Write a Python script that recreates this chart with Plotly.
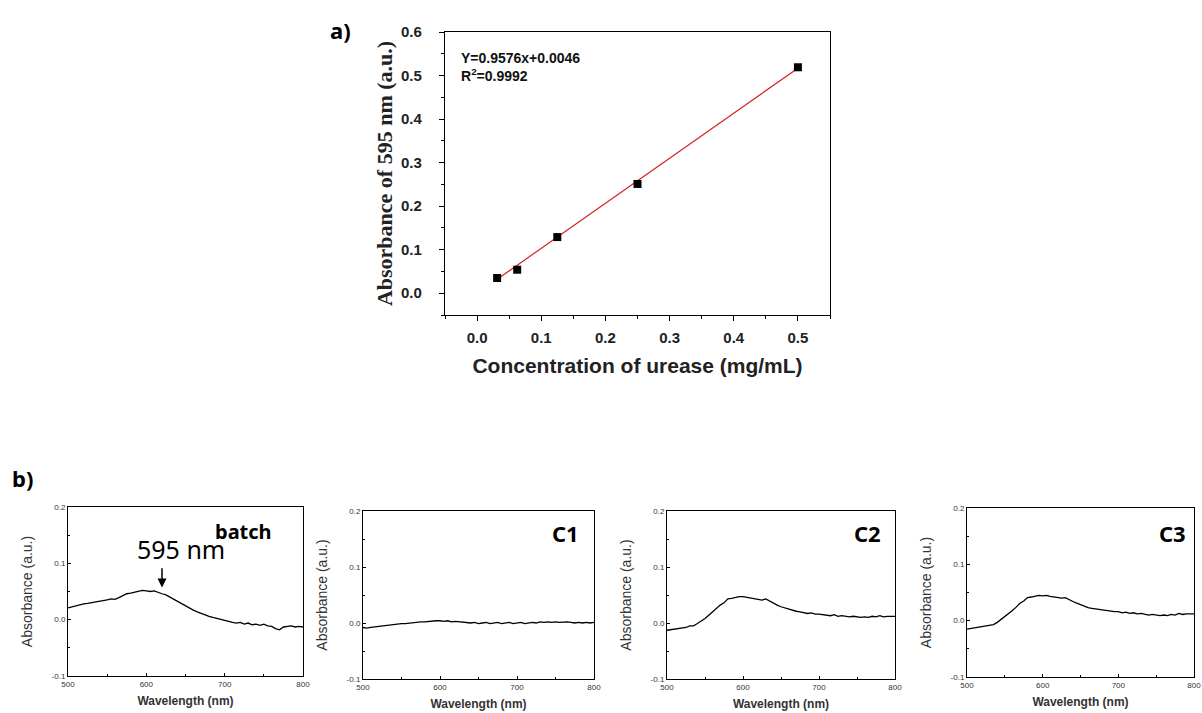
import plotly.graph_objects as go

# ---------- data: panel a ----------
conc = [0.03125, 0.0625, 0.125, 0.25, 0.5]
absorb = [0.035, 0.054, 0.129, 0.251, 0.519]
fit_x = [0.03125, 0.5]
fit_y = [0.032, 0.517]
conc_ticks = ["0.0", "0.1", "0.2", "0.3", "0.4", "0.5"]
abs595_ticks = ["0.0", "0.1", "0.2", "0.3", "0.4", "0.5", "0.6"]

# ---------- data: panel b ----------
wavelength = list(range(500, 805, 5))
batch = [0.021, 0.023, 0.025, 0.026, 0.028, 0.029, 0.030, 0.031, 0.033, 0.034,
         0.035, 0.037, 0.036, 0.039, 0.042, 0.046, 0.047, 0.049, 0.051, 0.052,
         0.051, 0.050, 0.051, 0.048, 0.046, 0.044, 0.040, 0.036, 0.033, 0.028,
         0.024, 0.021, 0.017, 0.014, 0.011, 0.009, 0.006, 0.004, 0.002, 0.001,
         -0.002, -0.003, -0.005, -0.006, -0.005, -0.008, -0.006, -0.009, -0.008, -0.010,
         -0.008, -0.011, -0.012, -0.016, -0.018, -0.013, -0.012, -0.011, -0.013, -0.012,
         -0.013]
c1 = [-0.008, -0.009, -0.008, -0.007, -0.007, -0.006, -0.005, -0.004, -0.003, -0.002,
      -0.001, -0.001, 0.000, 0.001, 0.001, 0.002, 0.002, 0.003, 0.003, 0.004,
      0.004, 0.003, 0.004, 0.002, 0.003, 0.002, 0.001, 0.001, 0.000, 0.001,
      -0.001, 0.000, 0.001, -0.001, 0.000, 0.001, -0.001, 0.000, 0.001, -0.001,
      0.000, 0.001, -0.001, 0.000, 0.001, 0.000, 0.002, 0.001, 0.002, 0.001,
      0.002, 0.001, 0.002, 0.002, 0.001, 0.000, 0.001, 0.000, 0.001, 0.000,
      0.001]
c2 = [-0.013, -0.012, -0.012, -0.010, -0.009, -0.008, -0.005, -0.005, -0.001, 0.003,
      0.008, 0.014, 0.020, 0.026, 0.032, 0.036, 0.043, 0.044, 0.046, 0.047,
      0.047, 0.046, 0.045, 0.043, 0.042, 0.041, 0.043, 0.039, 0.036, 0.032,
      0.029, 0.027, 0.024, 0.022, 0.021, 0.020, 0.019, 0.017, 0.018, 0.016,
      0.016, 0.015, 0.014, 0.013, 0.015, 0.012, 0.013, 0.012, 0.011, 0.012,
      0.011, 0.010, 0.011, 0.010, 0.012, 0.011, 0.013, 0.011, 0.012, 0.012,
      0.012]
c3 = [-0.015, -0.014, -0.013, -0.011, -0.010, -0.009, -0.008, -0.007, -0.003, 0.002,
      0.007, 0.012, 0.018, 0.024, 0.031, 0.035, 0.041, 0.042, 0.044, 0.045,
      0.044, 0.045, 0.043, 0.042, 0.041, 0.040, 0.041, 0.037, 0.034, 0.031,
      0.028, 0.026, 0.023, 0.022, 0.021, 0.019, 0.018, 0.017, 0.017, 0.016,
      0.016, 0.014, 0.015, 0.013, 0.014, 0.012, 0.013, 0.011, 0.010, 0.011,
      0.010, 0.009, 0.010, 0.009, 0.011, 0.010, 0.013, 0.011, 0.012, 0.012,
      0.012]
spectra = [("batch", batch), ("C1", c1), ("C2", c2), ("C3", c3)]
wl_ticks = [500, 600, 700, 800]
abs_ticks = [-0.1, 0.0, 0.1, 0.2]
abs_tick_labels = ["-0.1", "0.0", "0.1", "0.2"]

W, H = 1202, 713

def fx(p):
    return p / W

def fy(p):
    return 1 - p / H

fig = go.Figure()

# panel a
fig.add_trace(go.Scatter(x=fit_x, y=fit_y, mode="lines",
                         line=dict(color="#d42020", width=1.2),
                         xaxis="x", yaxis="y", showlegend=False))
fig.add_trace(go.Scatter(x=conc, y=absorb, mode="markers",
                         marker=dict(symbol="square", size=8, color="black"),
                         xaxis="x", yaxis="y", showlegend=False))

layout = dict(
    width=W, height=H, autosize=False,
    margin=dict(l=0, r=0, t=0, b=0, autoexpand=False),
    paper_bgcolor="white", plot_bgcolor="white",
    showlegend=False,
)

layout["xaxis"] = dict(
    domain=[fx(445), fx(830)], anchor="y", range=[-0.05, 0.55], automargin=False,
    tickvals=[0, 0.1, 0.2, 0.3, 0.4, 0.5], ticktext=[f"<b>{t}</b>" for t in conc_ticks],
    ticks="outside", ticklen=5, tickwidth=1.2, tickcolor="black",
    minor=dict(ticks="outside", dtick=0.05, tick0=0, ticklen=3, tickcolor="black"),
    showline=True, linecolor="black", linewidth=1.2, mirror=True,
    showgrid=False, zeroline=False, ticklabelstandoff=4,
    tickfont=dict(family="Liberation Sans", size=15, color="#222"),
    title=dict(text="<b>Concentration of urease (mg/mL)</b>", standoff=13,
               font=dict(family="Liberation Sans", size=21, color="#222")),
)
layout["yaxis"] = dict(
    domain=[fy(315), fy(32)], anchor="x", range=[-0.05, 0.6], automargin=False,
    tickvals=[0, 0.1, 0.2, 0.3, 0.4, 0.5, 0.6], ticktext=[f"<b>{t}</b>" for t in abs595_ticks],
    ticks="outside", ticklen=5, tickwidth=1.2, tickcolor="black",
    minor=dict(ticks="outside", dtick=0.05, tick0=0, ticklen=3, tickcolor="black"),
    showline=True, linecolor="black", linewidth=1.2, mirror=True,
    showgrid=False, zeroline=False, ticklabelstandoff=14,
    tickfont=dict(family="Liberation Sans", size=15, color="#222"),
    title=dict(text="<b>Absorbance of 595 nm (a.u.)</b>", standoff=2,
               font=dict(family="Liberation Serif", size=22, color="#222")),
)

boxes = [
    ((68, 303), (507, 676)),
    ((363, 594), (511, 679)),
    ((667, 895), (511, 679)),
    ((967, 1194), (508, 677)),
]
label_pos = [(244, 531), (565, 533), (867, 533), (1172, 533)]

annotations = [
    dict(text="<b>a)</b>", x=fx(340), y=fy(30), xref="paper", yref="paper",
         xanchor="center", yanchor="middle",
         showarrow=False, font=dict(family="Noto Sans", size=22, color="black")),
    dict(text="<b>b)</b>", x=fx(22), y=fy(478), xref="paper", yref="paper",
         xanchor="center", yanchor="middle",
         showarrow=False, font=dict(family="Noto Sans", size=22, color="black")),
    dict(text="<b>Y=0.9576x+0.0046<br>R<sup>2</sup>=0.9992</b>", x=fx(459), y=fy(48),
         xref="paper", yref="paper", xanchor="left", yanchor="top", align="left",
         showarrow=False, font=dict(family="Liberation Sans", size=14, color="#111")),
]

for i, ((name, vals), (xb, yb), (lx, ly)) in enumerate(zip(spectra, boxes, label_pos)):
    k = i + 2
    xa, ya = f"x{k}", f"y{k}"
    fig.add_trace(go.Scatter(x=wavelength, y=vals, mode="lines",
                             line=dict(color="black", width=1.3),
                             xaxis=xa, yaxis=ya, showlegend=False))
    layout[f"xaxis{k}"] = dict(
        domain=[fx(xb[0]), fx(xb[1])], anchor=ya, range=[500, 800], automargin=False,
        tickvals=wl_ticks, ticks="inside", ticklen=3, tickcolor="black",
        minor=dict(ticks="inside", dtick=50, tick0=500, ticklen=2, tickcolor="black"),
        showline=True, linecolor="black", linewidth=1, mirror=True,
        showgrid=False, zeroline=False,
        tickfont=dict(family="Liberation Sans", size=8, color="#333"),
        title=dict(text="<b>Wavelength (nm)</b>", standoff=9,
                   font=dict(family="Liberation Sans", size=12, color="#333")),
    )
    layout[f"yaxis{k}"] = dict(
        domain=[fy(yb[1]), fy(yb[0])], anchor=xa, range=[-0.1, 0.2], automargin=False,
        tickvals=abs_ticks, ticktext=abs_tick_labels,
        ticks="inside", ticklen=3, tickcolor="black",
        minor=dict(ticks="inside", dtick=0.05, tick0=0, ticklen=2, tickcolor="black"),
        showline=True, linecolor="black", linewidth=1, mirror=True,
        showgrid=False, zeroline=False,
        tickfont=dict(family="Liberation Sans", size=8, color="#333"),
        title=dict(text="Absorbance (a.u.)", standoff=15,
                   font=dict(family="Liberation Sans", size=14, color="#333")),
    )
    annotations.append(dict(text=f"<b>{name}</b>", x=fx(lx), y=fy(ly),
                            xref="paper", yref="paper", xanchor="center", yanchor="middle",
                            showarrow=False,
                            font=dict(family="Noto Sans", size=22 if i else 20, color="black")))

# 595 nm label and arrow in the batch panel
annotations.append(dict(text="595 nm", x=fx(181), y=fy(549), xref="paper", yref="paper",
                        xanchor="center", yanchor="middle",
                        showarrow=False, font=dict(family="Noto Sans", size=25, color="black")))
annotations.append(dict(text="", x=620, y=0.057, xref="x2", yref="y2",
                        ax=620, ay=0.094, axref="x2", ayref="y2",
                        showarrow=True, arrowhead=2, arrowsize=1.2, arrowwidth=1.5,
                        arrowcolor="black"))

layout["annotations"] = annotations
fig.update_layout(**layout)
fig.write_html("out.html")
